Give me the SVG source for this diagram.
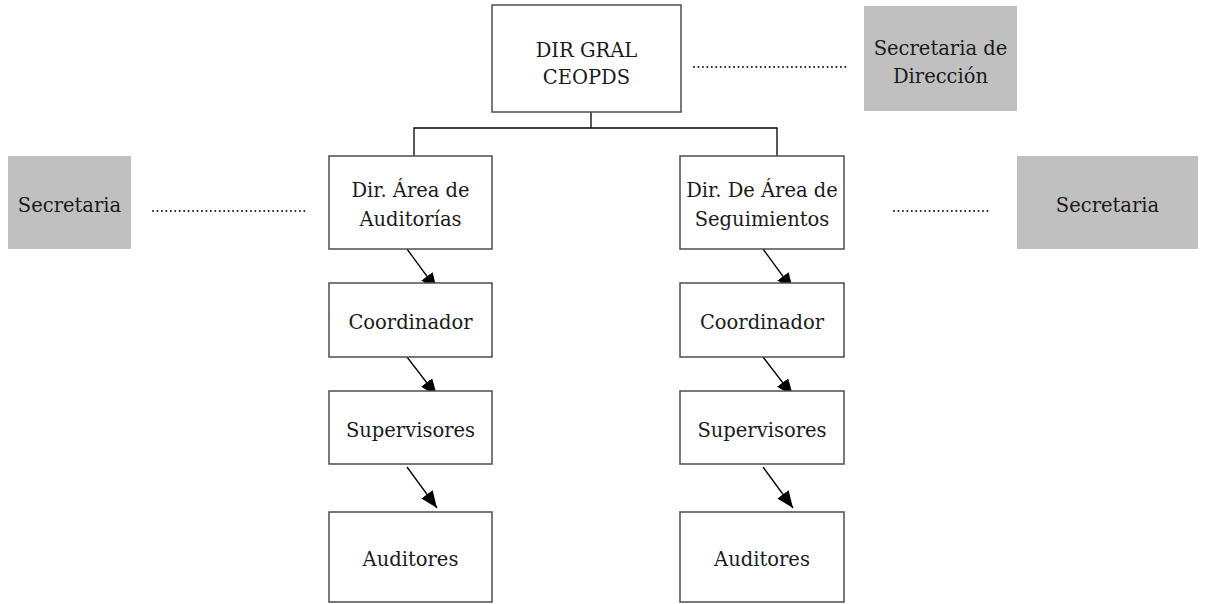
<svg xmlns="http://www.w3.org/2000/svg" width="1216" height="604" viewBox="0 0 1216 604">
<defs>
<style>
.box{fill:#ffffff;stroke:#4d4d4d;stroke-width:1.5}
.gray{fill:#c0c0c0;stroke:none}
.t{font-family:"DejaVu Serif","Liberation Serif",serif;font-size:19.5px;fill:#1a1a1a;text-anchor:middle}
.ln{stroke:#000;stroke-width:1.3;fill:none}
.dot{stroke:#1a1a1a;stroke-width:2;stroke-linecap:round;stroke-dasharray:0 4.45;fill:none}
.arr{stroke:#000;stroke-width:1.3;fill:none;marker-end:url(#ah)}
</style>
<marker id="ah" markerUnits="userSpaceOnUse" markerWidth="17" markerHeight="14" refX="17" refY="7" orient="auto">
<path d="M0,0 L17,7 L0,14 z" fill="#000"/>
</marker>
</defs>
<rect width="1216" height="604" fill="#ffffff"/>
<g id="connectors">
<line class="ln" x1="591" y1="112" x2="591" y2="128" stroke-width="2.2"/>
<polyline class="ln" points="414,156 414,128 777,128 777,156"/>
<line class="dot" x1="694" y1="67" x2="849" y2="67"/>
<line class="dot" x1="153" y1="211" x2="308" y2="211"/>
<line class="dot" x1="894" y1="211" x2="988" y2="211"/>
<line class="arr" x1="407" y1="249" x2="437" y2="290"/>
<line class="arr" x1="407" y1="357" x2="437" y2="396"/>
<line class="arr" x1="407" y1="467" x2="437" y2="508"/>
<line class="arr" x1="763" y1="249" x2="793" y2="290"/>
<line class="arr" x1="763" y1="357" x2="793" y2="396"/>
<line class="arr" x1="763" y1="467" x2="793" y2="508"/>
</g>
<g id="dir-gral">
<rect class="box" x="492" y="5" width="189" height="107"/>
<text class="t" x="586.5" y="57">DIR GRAL</text>
<text class="t" x="586.5" y="84">CEOPDS</text>
</g>
<g id="secretaria-direccion">
<rect class="gray" x="864" y="6" width="153" height="105"/>
<text class="t" x="940.5" y="55">Secretaria de</text>
<text class="t" x="940.5" y="83">Dirección</text>
</g>
<g id="secretaria-left">
<rect class="gray" x="8" y="156" width="123" height="93"/>
<text class="t" x="69.5" y="212">Secretaria</text>
</g>
<g id="dir-auditorias">
<rect class="box" x="329" y="156" width="163" height="93"/>
<text class="t" x="410.5" y="197">Dir. Área de</text>
<text class="t" x="410.5" y="226">Auditorías</text>
</g>
<g id="dir-seguimientos">
<rect class="box" x="680" y="156" width="164" height="93"/>
<text class="t" x="762" y="197">Dir. De Área de</text>
<text class="t" x="762" y="226">Seguimientos</text>
</g>
<g id="secretaria-right">
<rect class="gray" x="1017" y="156" width="181" height="93"/>
<text class="t" x="1107.5" y="212">Secretaria</text>
</g>
<g id="coord-left">
<rect class="box" x="329" y="283" width="163" height="74"/>
<text class="t" x="410.5" y="329">Coordinador</text>
</g>
<g id="coord-right">
<rect class="box" x="680" y="283" width="164" height="74"/>
<text class="t" x="762" y="329">Coordinador</text>
</g>
<g id="sup-left">
<rect class="box" x="329" y="391" width="163" height="73"/>
<text class="t" x="410.5" y="437">Supervisores</text>
</g>
<g id="sup-right">
<rect class="box" x="680" y="391" width="164" height="73"/>
<text class="t" x="762" y="437">Supervisores</text>
</g>
<g id="aud-left">
<rect class="box" x="329" y="512" width="163" height="90"/>
<text class="t" x="410.5" y="566">Auditores</text>
</g>
<g id="aud-right">
<rect class="box" x="680" y="512" width="164" height="90"/>
<text class="t" x="762" y="566">Auditores</text>
</g>
</svg>
